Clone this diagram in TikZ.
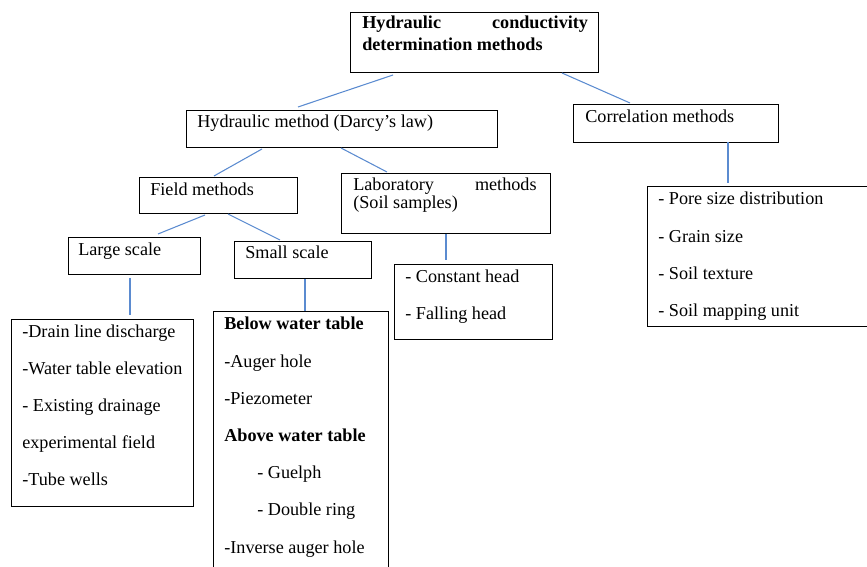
\documentclass[tikz,border=0pt]{standalone}
\usepackage{fontspec}
\setmainfont{Liberation Serif}
\definecolor{linkblue}{RGB}{91,139,208}

\begin{document}
\begin{tikzpicture}[x=0.66pt, y=-0.66pt,
  box/.style 2 args={draw, line width=0.6pt, minimum width=#1*0.66pt, minimum height=#2*0.66pt, anchor=north west, inner sep=0pt, outer sep=0pt},
  txt/.style={anchor=base west, inner sep=0pt, font=\fontsize{12}{14}\selectfont},
  link/.style={linkblue, line width=0.7pt}]

\useasboundingbox (0,0) rectangle (867,567);
\clip (0,0) rectangle (867,567);

\node[box={248}{60}] (hcd) at (350,12) {};
\node[box={311}{37}] (hyd) at (186,110) {};
\node[box={205}{38}] (cor) at (573,104) {};
\node[box={158}{36}] (fld) at (139,177) {};
\node[box={209}{60}] (lab) at (341,173) {};
\node[box={132}{37}] (lrg) at (68,237) {};
\node[box={137}{37}] (sml) at (234,241) {};
\node[box={182}{187}] (lrgl) at (11,319) {};
\node[box={175}{270}] (smll) at (213,311) {};
\node[box={158}{75}] (labl) at (394,264) {};
\node[box={225}{140}] (corl) at (647,186) {};

\node[txt, font=\fontsize{12}{14}\selectfont\bfseries] (hcd-1) at (362,29) {\hbox to 149pt{Hydraulic\hfill conductivity}};
\node[txt, font=\fontsize{12}{14}\selectfont\bfseries] (hcd-2) at (362,51) {determination methods};
\node[txt] (hyd-t) at (197,128) {Hydraulic method (Darcy’s law)};
\node[txt] (cor-t) at (585,123) {Correlation methods};
\node[txt] (fld-t) at (150,196) {Field methods};
\node[txt] (lab-1) at (353,191) {\hbox to 121pt{Laboratory\hfill methods}};
\node[txt] (lab-2) at (353,209) {(Soil samples)};
\node[txt] (lrg-t) at (78,256) {Large scale};
\node[txt] (sml-t) at (245,259) {Small scale};

\foreach \t [count=\i from 0] in {-Drain line discharge, -Water table elevation, - Existing drainage, experimental field, -Tube wells}
  \node[txt] (lrgl-\i) at (22,338+37*\i) {\t};
\foreach \x/\t [count=\i from 0] in {224/\textbf{Below water table}, 224/-Auger hole, 224/-Piezometer, 224/\textbf{Above water table}, 257/- Guelph, 257/- Double ring, 224/-Inverse auger hole}
  \node[txt] (smll-\i) at (\x,330+37.2*\i) {\t};
\foreach \t [count=\i from 0] in {- Constant head, - Falling head}
  \node[txt] (labl-\i) at (405,283+37*\i) {\t};
\foreach \t [count=\i from 0] in {- Pore size distribution, - Grain size, - Soil texture, - Soil mapping unit}
  \node[txt] (corl-\i) at (658,205+37.3*\i) {\t};

\draw[link] ([shift={(43,3)}]hcd.south west) -- ([shift={(112,-3)}]hyd.north west);
\draw[link] ([shift={(212,1)}]hcd.south west) -- ([shift={(57,-1)}]cor.north west);
\draw[link] ([shift={(76,2)}]hyd.south west) -- ([shift={(75,-1)}]fld.north west);
\draw[link] ([shift={(155,1)}]hyd.south west) -- ([shift={(46,-1)}]lab.north west);
\draw[link] ([shift={(66,2)}]fld.south west) -- ([shift={(90,-3)}]lrg.north west);
\draw[link] ([shift={(89,1)}]fld.south west) -- ([shift={(46,-1)}]sml.north west);
\draw[link] ([shift={(62,4)}]lrg.south west) -- ([shift={(119,-4)}]lrgl.north west);
\draw[link] ([shift={(71,1)}]sml.south west) -- ([shift={(92,0)}]smll.north west);
\draw[link] ([shift={(105,1)}]lab.south west) -- ([shift={(52,-4)}]labl.north west);
\draw[link] ([shift={(155,0)}]cor.south west) -- ([shift={(81,-3)}]corl.north west);

\end{tikzpicture}
\end{document}
